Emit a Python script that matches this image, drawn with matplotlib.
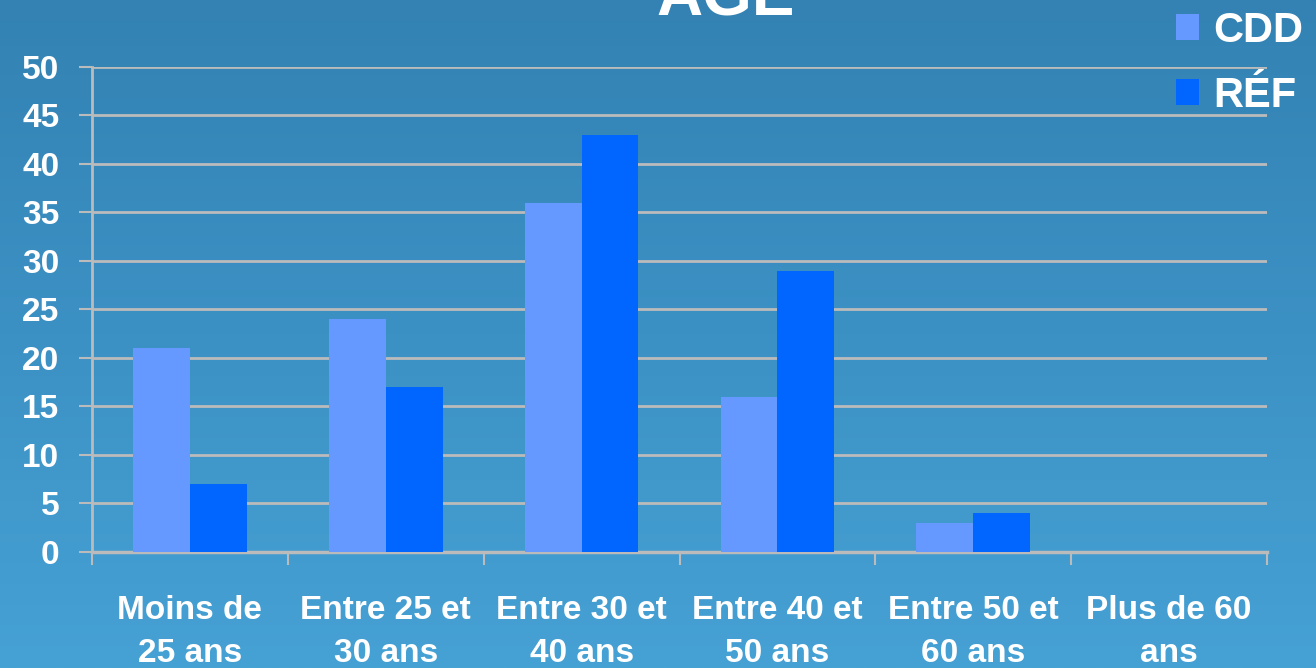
import numpy as np
import matplotlib.pyplot as plt
from matplotlib.colors import LinearSegmentedColormap

# age brackets and the two contract types
categories = ['Moins de\n25 ans', 'Entre 25 et\n30 ans', 'Entre 30 et\n40 ans',
              'Entre 40 et\n50 ans', 'Entre 50 et\n60 ans', 'Plus de 60\nans']
cdd = [21, 24, 36, 16, 3, 0]
ref = [7, 17, 43, 29, 4, 0]
series_names = ['CDD', 'RÉF']
y_ticks = [0, 5, 10, 15, 20, 25, 30, 35, 40, 45, 50]

plt.rcParams['font.family'] = ['Liberation Sans', 'DejaVu Sans']
plt.rcParams['font.weight'] = 'bold'

fig = plt.figure(figsize=(13.16, 6.68), dpi=100)

# blue gradient backdrop
bg = fig.add_axes([0, 0, 1, 1], zorder=-10)
grad = np.linspace(0, 1, 256).reshape(-1, 1)
cmap = LinearSegmentedColormap.from_list('bg', ['#3382B3', '#3C91C4', '#46A1D4'])
bg.imshow(grad, aspect='auto', cmap=cmap, extent=[0, 1, 0, 1], origin='upper')
bg.axis('off')

ax = fig.add_axes([0.0699, 0.1737, 0.8929, 0.7260])
ax.patch.set_alpha(0)

x = np.arange(len(categories))
w = 0.29
b1 = ax.bar(x - w / 2, cdd, w, color='#6699FF', label=series_names[0], zorder=3)
b2 = ax.bar(x + w / 2, ref, w, color='#0066FF', label=series_names[1], zorder=3)

grid_c = '#BBBBBB'
ax.set_xlim(-0.5, len(categories) - 0.5)
ax.set_ylim(0, 50)
ax.set_yticks(y_ticks)
ax.yaxis.grid(True, color=grid_c, linewidth=2, zorder=1)
ax.set_axisbelow(True)

ax.set_xticks(x)
ax.set_xticklabels(categories, fontsize=24, color='white', fontweight='bold',
                   linespacing=1.48)
ax.set_xticks(np.arange(len(categories) + 1) - 0.5, minor=True)
ax.tick_params(axis='x', which='major', length=0, pad=31)
ax.tick_params(axis='x', which='minor', length=9.5, width=1.5, color=grid_c)
ax.tick_params(axis='y', length=9.5, width=1.5, color=grid_c, labelsize=24,
               labelcolor='white', pad=14)
for t in ax.get_yticklabels():
    t.set_fontweight('bold')

for side in ['top', 'right']:
    ax.spines[side].set_visible(False)
ax.spines['left'].set_color(grid_c)
ax.spines['left'].set_linewidth(2)
ax.spines['bottom'].set_color(grid_c)
ax.spines['bottom'].set_linewidth(2.5)

leg = fig.legend(handles=[b1, b2], loc='upper right', bbox_to_anchor=(1.019, 1.04),
                 frameon=False, handlelength=0.55, handleheight=0.55,
                 handletextpad=0.35, labelspacing=0.6, labelcolor='white',
                 prop={'weight': 'bold', 'size': 30})

fig.text(0.551, 1 - 15 / 668, 'AGE', ha='center', va='baseline', fontsize=46,
         color='white', fontweight='bold')

fig.savefig('out.png', dpi=100)
